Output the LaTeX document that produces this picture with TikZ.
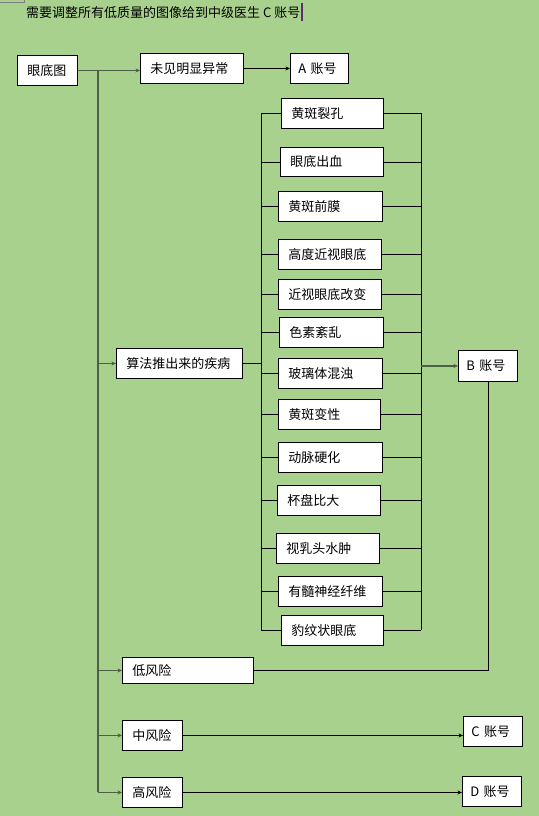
\documentclass[tikz,border=0pt]{standalone}
\usepackage{fontspec}
\newfontfamily\cjk{Noto Sans CJK SC}
\usetikzlibrary{arrows.meta}
\definecolor{bg}{HTML}{A9D18E}
\definecolor{trunkc}{HTML}{4E5F48}
\definecolor{cursorc}{HTML}{5B2C6F}
\tikzset{
  box/.style={draw=black, fill=white, line width=0.9bp, inner xsep=10bp, inner ysep=0pt,
    minimum height=30bp, anchor=north west, align=left,
    font=\cjk\fontsize{13bp}{15bp}\selectfont},
  acc/.style={box, inner xsep=8bp},
  ln/.style={draw=black, line width=0.9bp},
  gl/.style={draw=trunkc, line width=1.4bp},
  arr/.style={-{Stealth[length=4.5bp,width=4bp]}},
}
\begin{document}
\begin{tikzpicture}[x=1bp,y=-1bp]
\fill[bg] (0,0) rectangle (539,816);
\useasboundingbox (0,0) rectangle (539,816);
% top-left remnants
\draw[gray, line width=0.6bp] (0,2) -- (24,2) -- (24,0);
\draw[cursorc, line width=1.2bp] (302,3) -- (302,21);
\node[anchor=west, inner sep=0pt, font=\cjk\fontsize{13bp}{15bp}\selectfont] (title) at (26,13) {需要调整所有低质量的图像给到中级医生 C 账号};

\node[box, text width=40bp] (eye) at (17,55) {眼底图};
\node[box, text width=83bp] (normal) at (140,53) {未见明显异常};
\node[acc, text width=42bp] (A) at (290,53) {A 账号};
\node[box, text width=106bp] (algo) at (116,348) {算法推出来的疾病};

\node[box, text width=82bp] (d1) at (281,98) {黄斑裂孔};
\node[box, text width=83bp, minimum height=29bp] (d2) at (280,147) {眼底出血};
\node[box, text width=84bp] (d3) at (278,191) {黄斑前膜};
\node[box, text width=83bp] (d4) at (278,239) {高度近视眼底};
\node[box, text width=83bp] (d5) at (278,279) {近视眼底改变};
\node[box, text width=84bp] (d6) at (279,317) {色素紊乱};
\node[box, text width=84bp] (d7) at (278,358) {玻璃体混浊};
\node[box, text width=82bp] (d8) at (278,399) {黄斑变性};
\node[box, text width=84bp] (d9) at (278,442) {动脉硬化};
\node[box, text width=83bp] (d10) at (277,485) {杯盘比大};
\node[box, text width=83bp] (d11) at (276,533) {视乳头水肿};
\node[box, text width=84bp] (d12) at (278,576) {有髓神经纤维};
\node[box, text width=82bp] (d13) at (281,615) {豹纹状眼底};

\node[acc, text width=43bp, minimum height=31bp] (B) at (458,350) {B 账号};
\node[box, text width=111bp, minimum height=26bp] (low) at (122,657) {低风险};
\node[box, text width=40bp] (mid) at (122,720) {中风险};
\node[box, text width=40bp] (high) at (122,777) {高风险};
\node[acc, text width=43bp] (C) at (463,716) {C 账号};
\node[acc, text width=43bp] (D) at (462,776) {D 账号};

% coordinates for buses
\coordinate (t0) at (98,70);
\coordinate (t1) at (98,792);
\coordinate (lb0) at (261,113);
\coordinate (lb1) at (261,630);
\coordinate (rb0) at (421,113);
\coordinate (rb1) at (421,630);

% main connectors
\draw[gl, arr] (eye.east) -- (eye.east -| normal.west);
\draw[ln, arr] (normal.east) -- (A.west);
\draw[gl] (t0) -- (t1);
\draw[gl, arr] (t0 |- algo.west) -- (algo.west);
\draw[gl, arr] (t0 |- low.west) -- (low.west);
\draw[gl, arr] (t0 |- mid.west) -- (mid.west);
\draw[gl, arr] (t0 |- high.west) -- (high.west);

% disease buses
\draw[ln] (algo.east) -- (algo.east -| lb0);
\draw[ln] (lb0) -- (lb1);
\draw[ln] (rb0) -- (rb1);
\foreach \d in {d1,d2,d3,d4,d5,d6,d7,d8,d9,d10,d11,d12,d13}{
  \draw[ln] (\d.west -| lb0) -- (\d.west);
  \draw[ln] (\d.east) -- (\d.east -| rb0);
}
\draw[gl, arr] (rb0 |- B.west) -- (B.west);
\draw[ln] (B.south) |- (low.east);

\draw[ln, arr] (mid.east) -- (mid.east -| C.west);
\draw[ln, arr] (high.east) -- (high.east -| D.west);
\end{tikzpicture}
\end{document}
